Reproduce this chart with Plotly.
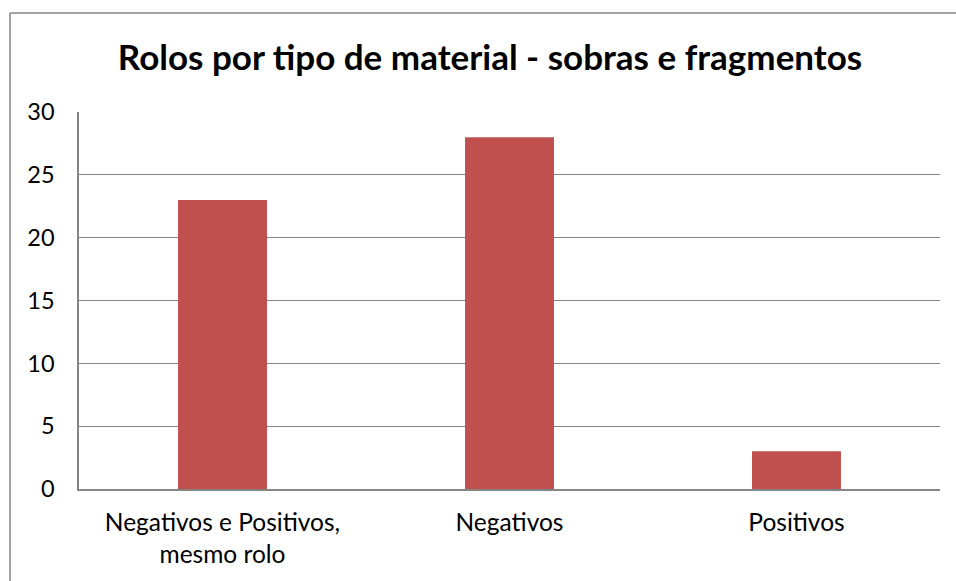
import plotly.graph_objects as go

categories = ["Negativos e Positivos,<br>mesmo rolo", "Negativos", "Positivos"]
values = [23, 28, 3]
y_ticks = [0, 5, 10, 15, 20, 25, 30]

W, H = 956, 581
# target screen positions of plot area
SL, SR, ST, SB = 79, 940, 112, 489
L, R, T, B = SL, W - SR, ST, H - SB
pw, ph = W - L - R, H - T - B

def px_x(p):
    return (p - L) / pw

def px_y(p):
    return (SB - p) / ph

fig = go.Figure()
fig.add_trace(go.Bar(x=categories, y=values, marker=dict(color="#C0504D", line=dict(width=0)),
                     width=0.31))

fig.update_layout(
    width=W, height=H,
    margin=dict(l=L, r=R, t=T, b=B),
    paper_bgcolor="white", plot_bgcolor="white",
    font=dict(family="Lato, Carlito, Open Sans, sans-serif", size=23, color="#000000"),
    title=dict(text="<b>Rolos por tipo de material - sobras e fragmentos</b>",
               x=490 / W, xanchor="center", y=1 - 58 / H, yanchor="middle",
               font=dict(size=35, color="#000000")),
    showlegend=False,
    bargap=0.69,
    xaxis=dict(showgrid=False, showline=True, linecolor="#868686", linewidth=1.5,
               ticks="", tickfont=dict(size=24.5), ticklabelstandoff=11),
    yaxis=dict(range=[0, 30], tickvals=y_ticks, showgrid=True, gridcolor="#868686",
               gridwidth=1.3, showline=True, linecolor="#868686", linewidth=1.5,
               ticks="", tickfont=dict(size=23.5), ticklabelstandoff=18, zeroline=False),
)

# chart outer border (only left and top edges are inside the window)
fig.add_shape(type="line", xref="paper", yref="paper",
              x0=px_x(10), x1=px_x(10), y0=px_y(H + 20), y1=px_y(13),
              line=dict(color="#868686", width=1.5), layer="below")
fig.add_shape(type="line", xref="paper", yref="paper",
              x0=px_x(10), x1=px_x(W + 20), y0=px_y(13), y1=px_y(13),
              line=dict(color="#868686", width=1.5), layer="below")

fig.write_html("out.html", config={"displayModeBar": False},
               post_script="document.body.style.margin='0';document.body.style.overflow='hidden';")
